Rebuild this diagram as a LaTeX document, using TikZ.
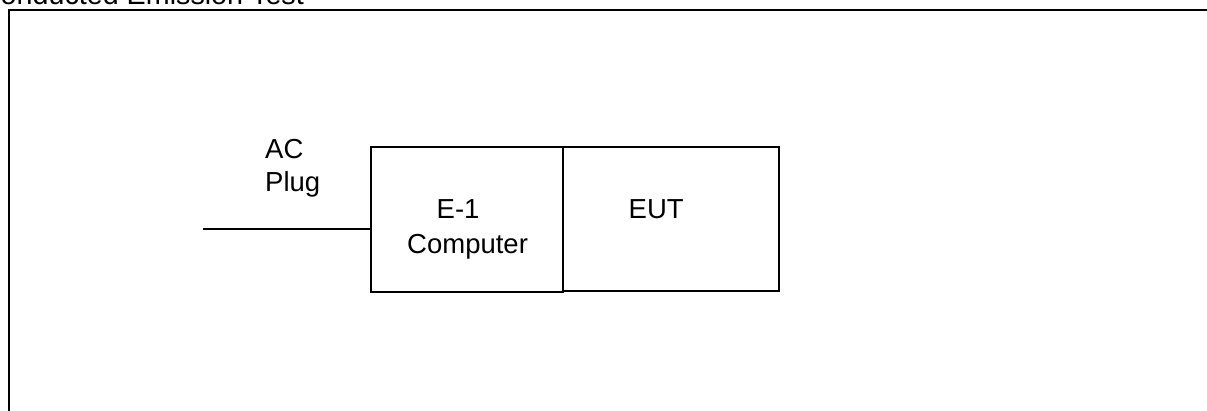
\documentclass[tikz,border=0pt]{standalone}
\usepackage{fontspec}
\setmainfont{Liberation Sans}
\begin{document}
\begin{tikzpicture}[x=1pt,y=-1pt,
  lbl/.style={inner sep=0pt,anchor=base west,font=\fontsize{27.5}{33.5}\selectfont},
  boxst/.style={draw,line width=1.9pt,inner sep=0pt}]
\useasboundingbox (0,0) rectangle (1207,410);
\clip (0,0) rectangle (1207,410);
% title (cut at the top-left)
\node[lbl,font=\fontsize{28.7}{34}\selectfont] (title) at (-20.2,4) {Conducted Emission Test};
% outer frame
\draw[line width=2.3pt] (8.8,430) -- (8.8,10.2) -- (1230,10.2);
% boxes
\node[boxst,minimum width=192pt,minimum height=145.5pt] (e1) at (467,219.5) {};
\node[boxst,minimum width=216.5pt,minimum height=144.5pt] (eut) at (671,219) {};
% labels
\node[lbl] (ac) at (265,158) {AC};
\node[lbl] (plug) at (265,191.5) {Plug};
\node[lbl] (e1a) at (436.5,218.5) {E-1};
\node[lbl] (e1b) at (407,253) {Computer};
\node[lbl] (eutl) at (628.5,218.5) {EUT};
% AC line
\coordinate (plugend) at (203,229);
\draw[line width=1.6pt] (plugend) -- (e1.west |- plugend);
\end{tikzpicture}
\end{document}
